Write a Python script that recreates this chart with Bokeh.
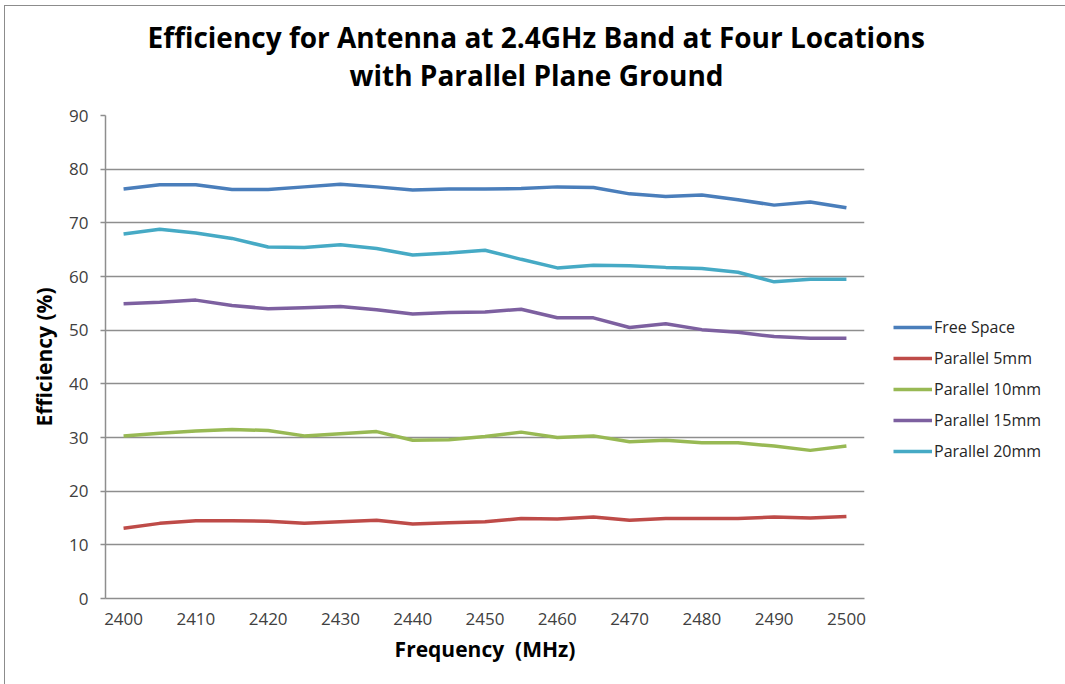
from bokeh.plotting import figure
from bokeh.models import Legend, LegendItem, Title, FixedTicker, Range1d
from bokeh.embed import file_html
from bokeh.resources import INLINE

freq = [2400, 2405, 2410, 2415, 2420, 2425, 2430, 2435, 2440, 2445, 2450,
        2455, 2460, 2465, 2470, 2475, 2480, 2485, 2490, 2495, 2500]
free_space = [76.3, 77.1, 77.1, 76.2, 76.2, 76.7, 77.2, 76.7, 76.1, 76.3, 76.3,
              76.4, 76.7, 76.6, 75.4, 74.9, 75.2, 74.3, 73.3, 73.9, 72.8]
parallel_5 = [13.1, 14.0, 14.5, 14.5, 14.4, 14.0, 14.3, 14.6, 13.9, 14.1, 14.3,
              14.9, 14.8, 15.2, 14.6, 14.9, 14.9, 14.9, 15.2, 15.0, 15.3]
parallel_10 = [30.3, 30.8, 31.2, 31.5, 31.3, 30.3, 30.7, 31.1, 29.5, 29.6, 30.2,
               31.0, 30.0, 30.3, 29.2, 29.5, 29.0, 29.0, 28.4, 27.6, 28.4]
parallel_15 = [54.9, 55.2, 55.6, 54.6, 54.0, 54.2, 54.4, 53.8, 53.0, 53.3, 53.4,
               53.9, 52.3, 52.3, 50.5, 51.2, 50.1, 49.6, 48.8, 48.5, 48.5]
parallel_20 = [67.9, 68.8, 68.1, 67.1, 65.5, 65.4, 65.9, 65.2, 64.0, 64.4, 64.9,
               63.2, 61.6, 62.1, 62.0, 61.7, 61.5, 60.8, 59.0, 59.5, 59.5]
series_names = ["Free Space", "Parallel 5mm", "Parallel 10mm", "Parallel 15mm", "Parallel 20mm"]
series_values = [free_space, parallel_5, parallel_10, parallel_15, parallel_20]
colors = ["#4A7EBB", "#BE4B48", "#98B954", "#7D60A0", "#46AAC5"]
x_ticks = [2400, 2410, 2420, 2430, 2440, 2450, 2460, 2470, 2480, 2490, 2500]
y_ticks = [0, 10, 20, 30, 40, 50, 60, 70, 80, 90]
title_lines = ["Efficiency for Antenna at 2.4GHz Band at Four Locations",
               "with Parallel Plane Ground"]

FONT = "Open Sans"

p = figure(frame_width=759, frame_height=483, output_backend="svg", toolbar_location=None,
           x_range=Range1d(2397.5, 2502.5), y_range=Range1d(0, 90),
           min_border_left=100, min_border_right=197, min_border_top=109, min_border_bottom=86)
p.margin = (5, 0, 0, 4)
p.styles = {"border-top": "1px solid #8c8c8c", "border-left": "1px solid #8c8c8c",
            "border-right": "1px solid #8c8c8c"}
p.outline_line_color = None
p.background_fill_color = "white"
p.border_fill_color = "white"

items = []
for name, vals, c in zip(series_names, series_values, colors):
    r = p.line(freq, vals, line_color=c, line_width=3.5)
    items.append(LegendItem(label=name, renderers=[r]))

legend = Legend(items=items, location=(29, 136), glyph_width=39, glyph_height=20,
                label_height=20, spacing=9, label_standoff=2, padding=0, margin=0,
                border_line_color=None, background_fill_alpha=0,
                label_text_font=FONT, label_text_font_size="16px", label_text_color="#262626")
p.add_layout(legend, "right")

p.xgrid.grid_line_color = None
p.ygrid.ticker = FixedTicker(ticks=y_ticks)
p.ygrid.grid_line_color = "#8e8e8e"
p.ygrid.grid_line_width = 1.5

p.xaxis.ticker = FixedTicker(ticks=x_ticks)
p.yaxis.ticker = FixedTicker(ticks=y_ticks)
for ax in (p.xaxis[0], p.yaxis[0]):
    ax.axis_line_color = "#8e8e8e"
    ax.axis_line_width = 1.5
    ax.major_tick_line_color = "#8e8e8e"
    ax.major_tick_line_width = 1.5
    ax.minor_tick_line_color = None
    ax.major_label_text_font = FONT
    ax.major_label_text_font_size = "17px"
    ax.major_label_text_color = "#404040"
    ax.axis_label_text_font = FONT
    ax.axis_label_text_font_style = "bold"
    ax.axis_label_text_font_size = "21px"
    ax.axis_label_text_color = "black"
p.xaxis.major_tick_out = 0
p.xaxis.major_tick_in = 0
p.yaxis.major_tick_out = 5
p.yaxis.major_tick_in = 0
p.xaxis.major_label_standoff = 14
p.yaxis.major_label_standoff = 12
p.xaxis.axis_label = "Frequency\u00a0\u00a0(MHz)"
p.yaxis.axis_label = "Efficiency (%)"
p.xaxis.axis_label_standoff = 7
p.yaxis.axis_label_standoff = 8

p.add_layout(Title(text=title_lines[1], align="left", offset=244, standoff=43,
                   text_font=FONT, text_font_style="bold", text_font_size="28px",
                   text_color="black"), "above")
p.add_layout(Title(text=title_lines[0], align="left", offset=42, standoff=-47,
                   text_font=FONT, text_font_style="bold", text_font_size="28px",
                   text_color="black"), "above")

open("out.html", "w").write(file_html(p, INLINE))
